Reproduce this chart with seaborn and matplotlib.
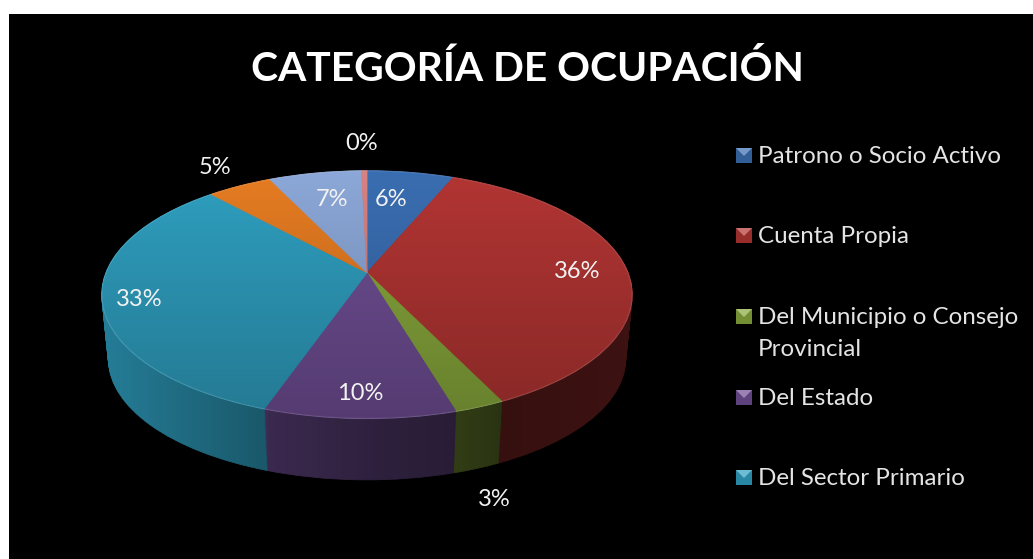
import matplotlib
matplotlib.use('Agg')
import matplotlib.pyplot as plt
import numpy as np
import seaborn as sns
from matplotlib.patches import Circle, Polygon, Rectangle
from matplotlib.transforms import Transform

categories = ['Patrono o Socio Activo', 'Cuenta Propia', 'Del Municipio o Consejo\nProvincial',
              'Del Estado', 'Del Sector Primario']
shares = [6.3, 36.67, 2.6, 9.9, 33.0, 4.7, 6.72, 0.4]
share_labels = ['6%', '36%', '3%', '10%', '33%', '5%', '7%', '0%']
colors = ['#3A6EB2', '#B23533', '#88A83C', '#6F4E94', '#2F9FC0', '#E67C22', '#8CA8D8', '#D98282']
title = 'CATEGORÍA DE OCUPACIÓN'

# pixel positions of the texts, same order as share_labels
label_xy = [(391, 200), (577, 272), (494, 499), (360, 393), (139, 300), (215, 168), (332, 200), (362, 144)]
legend_y = [155, 235, 316, 397, 477]

sns.set_theme(style='white')
plt.rcParams['font.family'] = ['Lato', 'DejaVu Sans']


class PieProjection(Transform):
    """Tilted disc: unit circle to a perspective ellipse in pixel coordinates"""
    input_dims = 2
    output_dims = 2
    has_inverse = False

    def __init__(self, drop=0.0, scale=1.0):
        super().__init__()
        self.drop = drop
        self.scale = scale

    def transform_non_affine(self, values):
        values = np.asarray(values, dtype=float)
        x, y = values[:, 0], values[:, 1]
        d = 1 + 0.177 * y
        return np.column_stack([367 + 261 * self.scale * x / d,
                                272.7 + self.drop - 120 * self.scale * y / d])


def draw_disc(drop, scale, zorder):
    wedges = ax.pie(shares, colors=palette, startangle=90, counterclock=False,
                    wedgeprops={'transform': PieProjection(drop, scale) + ax.transData, 'linewidth': 0.6})[0]
    for w in wedges:
        w.set_edgecolor(w.get_facecolor())
        w.set_zorder(zorder)


fig = plt.figure(figsize=(10.33, 5.59), dpi=100, facecolor='white')
ax = fig.add_axes([0, 0, 1, 1])
ax.add_patch(Rectangle((9, 14), 1024, 545, facecolor='black', edgecolor='none', zorder=0))

# side wall, stacked from the bottom up
palette = sns.color_palette(colors)
for t in np.linspace(1, 0, 62):
    draw_disc(65 * t, 1 - 0.025 * t, 1)

# side wall gets darker to the right
xs = np.arange(90, 645)
wall = np.zeros((1, len(xs), 4))
wall[0, :, 3] = np.interp(xs, [105, 267, 268, 366, 456, 502, 632], [0.22, 0.45, 0.47, 0.58, 0.64, 0.70, 0.66])
ax.imshow(wall, extent=(90, 645, 490, 160), aspect='auto', zorder=2, interpolation='bilinear')

# top face
draw_disc(0, 1, 3)
disc = Circle((0, 0), 1, transform=PieProjection() + ax.transData, facecolor='none',
              edgecolor='white', alpha=0.1, linewidth=1.0, zorder=5)
ax.add_patch(disc)
shade = np.zeros((256, 1, 4))
shade[:, 0, 3] = np.linspace(0, 0.24, 256)
img = ax.imshow(shade, extent=(95, 640, 420, 168), aspect='auto', zorder=4, interpolation='bilinear')
img.set_clip_path(disc)

ax.set_aspect('auto')
ax.set_xlim(0, 1033)
ax.set_ylim(559, 0)
ax.set_axis_off()

for (x, y), text in zip(label_xy, share_labels):
    ax.text(x, y, text, color='#F2F2F2', fontsize=17, ha='center', va='center', zorder=6)

ax.text(527.5, 69, title, color='white', fontsize=29.3, fontweight='bold', ha='center', va='center', zorder=6)

for y, name, color in zip(legend_y, categories, palette):
    body = np.array(color) * 0.85
    light = np.array(color) * 0.7 + 0.3
    ax.add_patch(Rectangle((736, y - 7), 16, 15, facecolor=body, edgecolor='none', zorder=6))
    ax.add_patch(Polygon([(736, y - 7), (752, y - 7), (744, y + 1)], facecolor=light, edgecolor='none', zorder=7))
    ax.text(758, y - 9, name, color='#E4E4E4', fontsize=17.4, ha='left', va='top', linespacing=1.65, zorder=6)

fig.savefig('out.png', dpi=100, facecolor='white')
